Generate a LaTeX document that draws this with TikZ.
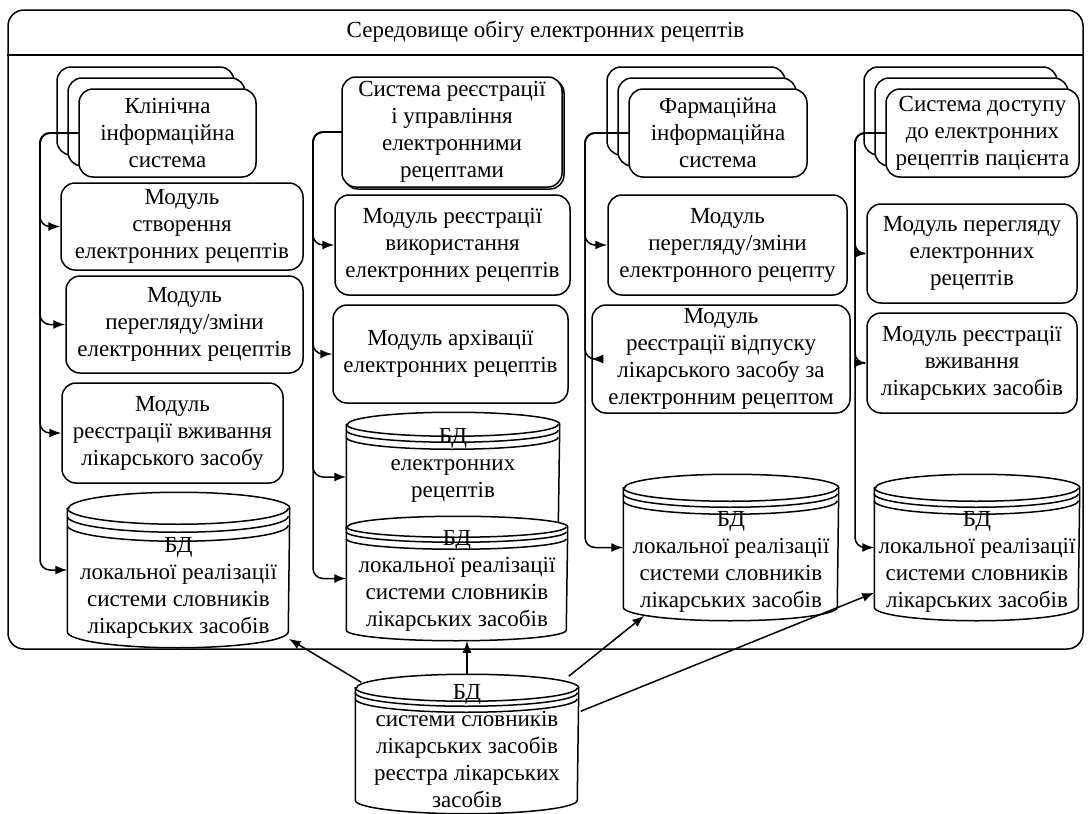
\documentclass[tikz,border=0pt]{standalone}
\usepackage{fontspec}
\setmainfont{Liberation Serif}
\usetikzlibrary{arrows.meta, calc, shadows}

\newcommand{\bdcyl}[5]{%
  \draw[fill=white] ([yshift=-#3]#1.north west) -- ([yshift=#3]#1.south west)
    arc[start angle=180, end angle=360, x radius=#2, y radius=#3]
    -- ([yshift=-#3]#1.north east)
    arc[start angle=0, end angle=180, x radius=#2, y radius=#3] -- cycle;
  \draw ([yshift=-#3]#1.north west) arc[start angle=180, end angle=360, x radius=#2, y radius=#3];
  \draw ([yshift=-#3-#4]#1.north west) arc[start angle=180, end angle=360, x radius=#2, y radius=#3];
  \draw ([yshift=-#3-#5]#1.north west) arc[start angle=180, end angle=360, x radius=#2, y radius=#3];
}

\begin{document}
\begin{tikzpicture}[
    x=0.5pt, y=-0.5pt, line width=0.75pt,
    every node/.style={font=\fontsize{11.5}{13.5}\selectfont},
    modul/.style={rectangle, draw, fill=white, rounded corners=7pt, align=center, inner sep=0pt},
    stos/.style={modul, copy shadow={shadow xshift=-11pt, shadow yshift=11pt}, copy shadow={shadow xshift=-5.5pt, shadow yshift=5.5pt}},
    bd/.style={rectangle, inner sep=0pt},
    bdtext/.style={align=center, inner sep=0pt},
    arw/.style={-{Latex[length=6pt,width=4.5pt]}, rounded corners=5pt},
]
    \useasboundingbox (0,0) rectangle (1089,814);

    \node[draw, rounded corners=8pt, minimum width=537.5pt, minimum height=319.5pt, inner sep=0pt] (sered) at (545.5,329.5) {};
    \node[anchor=north, minimum height=22pt, inner sep=0pt] (title) at (sered.north) {Середовище обігу електронних рецептів};
    \draw (title.south -| sered.west) -- (title.south -| sered.east);

    \node[stos, minimum width=88.5pt, minimum height=44pt] (kis) at (167.5,133) {Клінічна\\інформаційна\\система};
    \node[modul, minimum width=121pt, minimum height=43.5pt] (m11) at (182,226.5) {Модуль\\створення\\електронних рецептів};
    \node[modul, minimum width=118.5pt, minimum height=48.5pt] (m12) at (184.5,324.5) {Модуль\\перегляду/зміни\\електронних рецептів};
    \node[modul, minimum width=110.5pt, minimum height=50pt] (m13) at (172.5,433) {Модуль\\реєстрації вживання\\лікарського засобу};

    \node[modul, copy shadow={shadow xshift=1pt, shadow yshift=-1pt}, minimum width=110pt, minimum height=55pt] (sys) at (452,132) {Система реєстрації\\і управління\\електронними\\рецептами};
    \node[modul, minimum width=117.5pt, minimum height=50pt] (m21) at (452.5,245) {Модуль реєстрації\\використання\\електронних рецептів};
    \node[modul, minimum width=117.5pt, minimum height=49pt] (m22) at (450.5,354) {Модуль архівації\\електронних рецептів};

    \node[stos, minimum width=89pt, minimum height=44pt] (fis) at (718,133) {Фармаційна\\інформаційна\\система};
    \node[modul, minimum width=119.5pt, minimum height=50pt] (m31) at (727.5,245) {Модуль\\перегляду/зміни\\електронного рецепту};
    \node[modul, minimum width=129pt, minimum height=54pt] (m32) at (721,359) {Модуль\\реєстрації відпуску\\лікарського засобу за\\електронним рецептом};

    \node[stos, minimum width=96.5pt, minimum height=44pt] (sd) at (982.5,133) {Система доступу\\до електронних\\рецептів пацієнта};
    \node[modul, minimum width=105pt, minimum height=49.5pt] (m41) at (972,253.5) {Модуль перегляду\\електронних\\рецептів};
    \node[modul, minimum width=105pt, minimum height=50pt] (m42) at (972,363) {Модуль реєстрації\\вживання\\лікарських засобів};

    \node[bd, minimum width=110.5pt, minimum height=77pt] (c1) at (178.5,570) {};
    \bdcyl{c1}{55.25pt}{8pt}{4pt}{8.5pt}
    \node[bdtext] (c1t) at (178.5,588) {БД\\локальної реалізації\\системи словників\\лікарських засобів};

    \node[bd, minimum width=106pt, minimum height=64pt] (c2a) at (453,477) {};
    \bdcyl{c2a}{53pt}{6pt}{3pt}{6.5pt}
    \node[bdtext] (c2at) at (453,465) {БД\\електронних\\рецептів};

    \node[bd, minimum width=110pt, minimum height=61.5pt] (c2b) at (457,578.5) {};
    \bdcyl{c2b}{55pt}{5.25pt}{2.5pt}{6pt}
    \node[bdtext] (c2bt) at (457,581) {БД\\локальної реалізації\\системи словників\\лікарських засобів};

    \node[bd, minimum width=107pt, minimum height=72.5pt] (c3) at (731,547.5) {};
    \bdcyl{c3}{53.5pt}{6.75pt}{3pt}{6.5pt}
    \node[bdtext] (c3t) at (731,562) {БД\\локальної реалізації\\системи словників\\лікарських засобів};

    \node[bd, minimum width=102pt, minimum height=72.5pt] (c4) at (977,547.5) {};
    \bdcyl{c4}{51pt}{6.75pt}{3pt}{6.5pt}
    \node[bdtext] (c4t) at (977,562) {БД\\локальної реалізації\\системи словників\\лікарських засобів};

    \node[bd, minimum width=111pt, minimum height=69pt] (cb) at (467,744) {};
    \bdcyl{cb}{55.5pt}{6.75pt}{2.5pt}{5.5pt}
    \node[bdtext] (cbt) at (467,746) {БД\\системи словників\\лікарських засобів\\реєстра лікарських\\засобів};

    \coordinate (bus1) at (40,133);
    \coordinate (bus2) at (313,132);
    \coordinate (bus3) at (585,133);
    \coordinate (bus4) at (855,133);

    \foreach \cel in {m11,m12,m13,c1}
        \draw[arw] (kis.west) -- (bus1) |- (\cel.west);
    \foreach \cel in {m21,m22,c2a,c2b}
        \draw[arw] (sys.west) -- (bus2) |- (\cel.west);
    \foreach \cel in {m31,m32,c3}
        \draw[arw] (fis.west) -- (bus3) |- (\cel.west);
    \foreach \cel in {m41,m42,c4}
        \draw[arw] (sd.west) -- (bus4) |- (\cel.west);

    \draw[arw] ([xshift=3pt,yshift=-4pt]cb.north west) -- ([xshift=-0.5pt,yshift=4.5pt]c1.south east);
    \draw[arw] (cb.north) -- (cb.north |- c2b.south);
    \draw[arw] ([xshift=-5pt,yshift=-1pt]cb.north east) -- ([xshift=10.5pt,yshift=2.5pt]c3.south west);
    \draw[arw] ([xshift=1pt,yshift=-18.5pt]cb.north east) -- ([yshift=14pt]c4.south west);
\end{tikzpicture}
\end{document}
